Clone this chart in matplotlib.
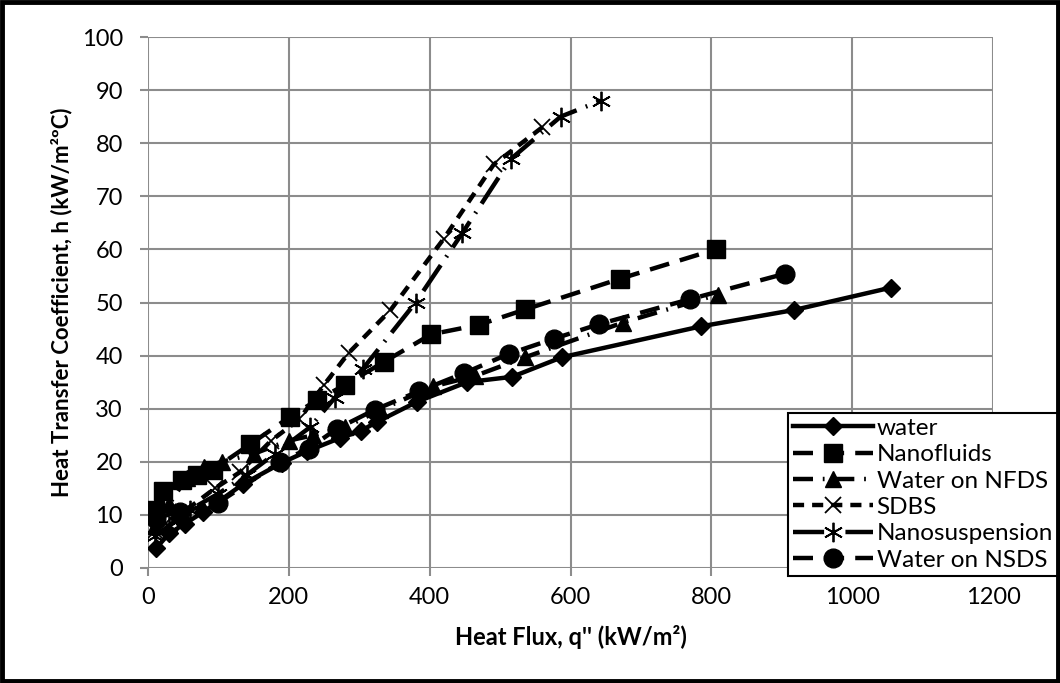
import matplotlib
matplotlib.use("Agg")
import matplotlib.pyplot as plt
from matplotlib.patches import Rectangle

plt.rcParams["font.family"] = ["Lato", "DejaVu Sans"]

# data
water_q = [12, 30, 52, 78, 100, 135, 190, 226, 273, 302, 325, 382, 453, 517, 588, 785, 918, 1055]
water_h = [3.8, 6.5, 8.3, 10.5, 12.5, 15.8, 19.8, 22, 24.5, 25.8, 27.5, 31.3, 35, 36, 39.7, 45.5, 48.6, 52.8]

nano_q = [10, 22, 48, 70, 92, 145, 202, 240, 280, 335, 402, 470, 536, 671, 806]
nano_h = [11, 14.5, 16.5, 17.5, 18.5, 23.3, 28.5, 31.6, 34.5, 38.8, 44, 45.8, 48.7, 54.5, 60]

nfds_q = [10, 30, 55, 80, 105, 150, 200, 235, 280, 330, 405, 465, 536, 674, 809]
nfds_h = [8, 12, 17, 19, 20, 21.5, 24, 25, 26.5, 29.8, 34.2, 36.2, 39.7, 46.2, 51.5]

sdbs_q = [10, 25, 50, 95, 130, 175, 215, 250, 285, 344, 420, 491, 560]
sdbs_h = [7, 8.5, 10.5, 15, 18, 24, 28, 34.5, 40.5, 48.5, 62, 76, 83]

susp_q = [10, 30, 60, 100, 140, 180, 230, 265, 305, 380, 446, 515, 586, 643]
susp_h = [6, 8, 11, 14, 17.5, 21.5, 26.5, 32, 37.5, 50, 63, 77, 85, 88]

nsds_q = [12, 45, 100, 188, 228, 268, 322, 385, 449, 512, 577, 640, 769, 904]
nsds_h = [9.5, 10.5, 12.3, 20, 22.5, 26.2, 29.8, 33.3, 36.7, 40.3, 43.2, 45.9, 50.6, 55.4]

fig = plt.figure(figsize=(10.6, 6.83), dpi=100)
ax = fig.add_axes([148 / 1060, 1 - 568 / 683, (993 - 148) / 1060, (568 - 37) / 683])

lw = 3.2
ax.plot(water_q, water_h, color="black", lw=lw, ls="-", marker="D", ms=9, label="water")
ax.plot(nano_q, nano_h, color="black", lw=lw, ls=(0, (4.5, 2.5)), marker="s", ms=13,
        label="Nanofluids")
ax.plot(nfds_q, nfds_h, color="black", lw=lw, ls=(0, (4.5, 2.2, 0.4, 2.2)), marker="^", ms=12,
        label="Water on NFDS")
ax.plot(sdbs_q, sdbs_h, color="black", lw=lw, ls=(0, (2.5, 1.8)), marker="x", ms=12, mew=1.3,
        label="SDBS")
ax.plot(susp_q, susp_h, color="black", lw=lw, ls=(0, (7, 2.2, 0.4, 2.2)), marker=(6, 2, 0),
        ms=14, mew=1.3, label="Nanosuspension")
ax.plot(nsds_q, nsds_h, color="black", lw=lw, ls=(0, (4.5, 2.5)), marker="o", ms=13.5,
        label="Water on NSDS")

ax.set_xlim(0, 1200)
ax.set_ylim(0, 100)
ax.set_xticks(range(0, 1201, 200))
ax.set_yticks(range(0, 101, 10))
ax.grid(True, color="#8c8c8c", lw=1.5)
ax.set_axisbelow(True)
for s in ax.spines.values():
    s.set_visible(False)
ax.tick_params(length=6, width=1.5, color="#8c8c8c", labelsize=17)
ax.tick_params(axis="y", pad=12)
ax.tick_params(axis="x", pad=8)

ax.set_xlabel("Heat Flux, q'' (kW/m²)", fontsize=17, fontweight="bold", labelpad=12)
ax.set_ylabel("Heat Transfer Coefficient, h (kW/m²ºC)", fontsize=16, fontweight="bold",
              labelpad=7)

leg = ax.legend(loc="upper left", bbox_to_anchor=(788 / 1060, 1 - 413 / 683),
                bbox_transform=fig.transFigure, fontsize=17.5, handlelength=3.3,
                frameon=True, fancybox=False, edgecolor="black", framealpha=1,
                borderpad=0.2, labelspacing=0.22, handletextpad=0.15, borderaxespad=0)
leg.get_frame().set_linewidth(1.5)

fig.patches.append(Rectangle((0.002, 0.003), 0.996, 0.994, transform=fig.transFigure,
                             fill=False, edgecolor="black", lw=3.5))

fig.savefig("out.png", dpi=100)
